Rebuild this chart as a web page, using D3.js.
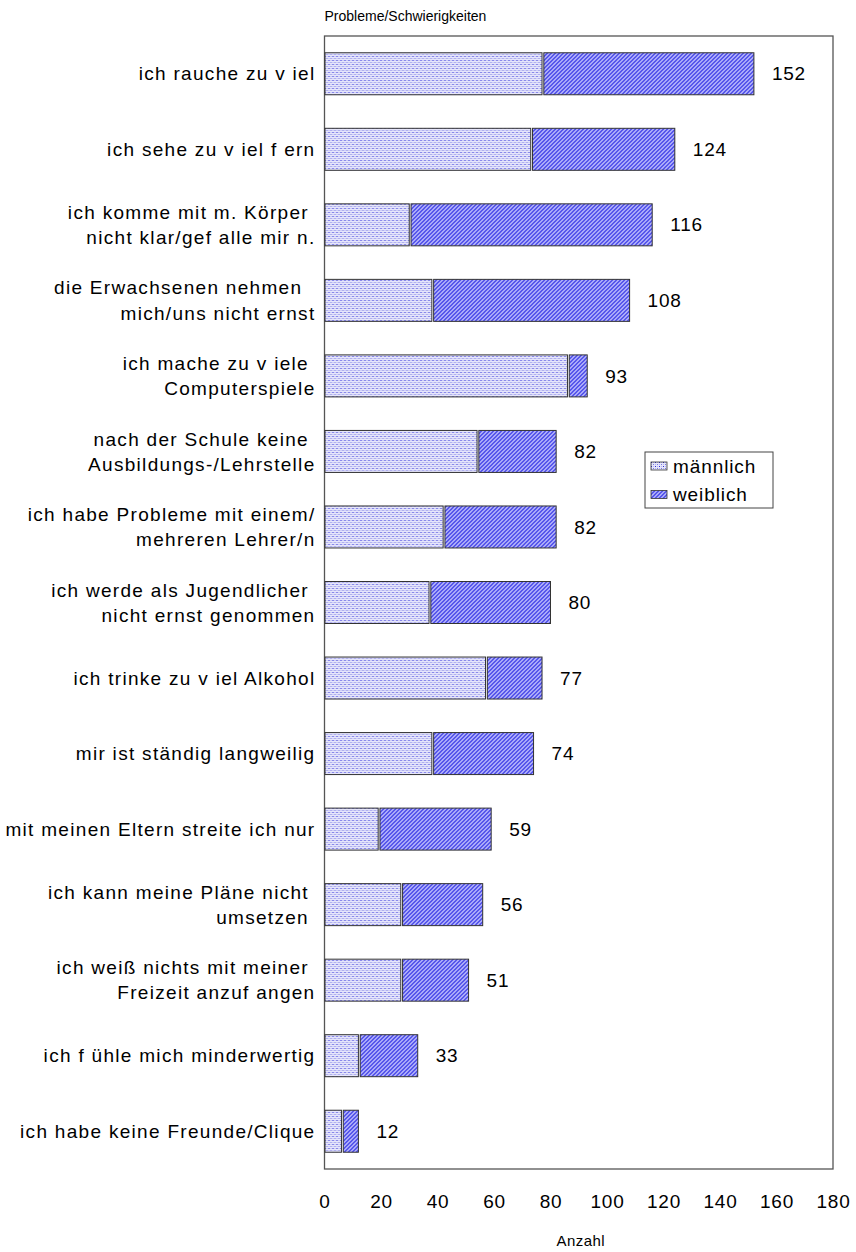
<!DOCTYPE html>
<html>
<head>
<meta charset="utf-8">
<script src="https://cdn.jsdelivr.net/npm/d3@7"></script>
<style>
  body { margin: 0; background: #fff; }
  text { font-family: "Liberation Sans", Arial, sans-serif; fill: #000; }
</style>
</head>
<body>
<div id="chart"></div>
<script>
// categories (line breaks as in the original chart)
let categories = [
  ['ich rauche zu v iel'],
  ['ich sehe zu v iel f ern'],
  ['ich komme mit m. Körper ', 'nicht klar/gef alle mir n.'],
  ['die Erwachsenen nehmen  ', 'mich/uns nicht ernst'],
  ['ich mache zu v iele ', 'Computerspiele'],
  ['nach der Schule keine ', 'Ausbildungs-/Lehrstelle'],
  ['ich habe Probleme mit einem/', 'mehreren Lehrer/n'],
  ['ich werde als Jugendlicher ', 'nicht ernst genommen'],
  ['ich trinke zu v iel Alkohol'],
  ['mir ist ständig langweilig'],
  ['mit meinen Eltern streite ich nur'],
  ['ich kann meine Pläne nicht ', 'umsetzen '],
  ['ich weiß nichts mit meiner ', 'Freizeit anzuf angen'],
  ['ich f ühle mich minderwertig'],
  ['ich habe keine Freunde/Clique']
]
let male   = [77, 73, 30, 38, 86, 54, 42, 37, 57, 38, 19, 27, 27, 12, 6]
let female = [75, 51, 86, 70,  7, 28, 40, 43, 20, 36, 40, 29, 24, 21, 6]
let totals = [152, 124, 116, 108, 93, 82, 82, 80, 77, 74, 59, 56, 51, 33, 12]
let xTicks = [0, 20, 40, 60, 80, 100, 120, 140, 160, 180]
let series = ['männlich', 'weiblich']

let width = 856
let height = 1252
let margin = { top: 36, left: 324.5, right: 23, bottom: 83 }
let innerW = width - margin.left - margin.right
let innerH = height - margin.top - margin.bottom

let svg = d3.select('#chart')
  .append('svg')
  .attr('width', width)
  .attr('height', height)

// fill patterns
let defs = svg.append('defs')

let dots = defs.append('pattern')
  .attr('id', 'pat-m')
  .attr('patternUnits', 'userSpaceOnUse')
  .attr('width', 4).attr('height', 4)
dots.append('rect').attr('width', 4).attr('height', 4).attr('fill', '#e6e6fb')
dots.append('rect').attr('x', 0).attr('y', 0).attr('width', 1).attr('height', 1).attr('fill', '#2c2cd8')
dots.append('rect').attr('x', 2).attr('y', 2).attr('width', 1).attr('height', 1).attr('fill', '#7a7ae0')
dots.append('rect').attr('x', 2).attr('y', 0).attr('width', 1).attr('height', 1).attr('fill', '#b4b4f0')
dots.append('rect').attr('x', 0).attr('y', 2).attr('width', 1).attr('height', 1).attr('fill', '#b4b4f0')

let hatch = defs.append('pattern')
  .attr('id', 'pat-w')
  .attr('patternUnits', 'userSpaceOnUse')
  .attr('width', 4).attr('height', 4)
hatch.append('rect').attr('width', 4).attr('height', 4).attr('fill', '#cfcfff')
hatch.append('path')
  .attr('d', 'M-1,1 L1,-1 M0,4 L4,0 M3,5 L5,3')
  .attr('stroke', '#2a2ae4')
  .attr('stroke-width', 1.3)

let g = svg.append('g')
  .attr('transform', 'translate(' + margin.left + ',' + margin.top + ')')

let x = d3.scaleLinear().domain([0, 180]).range([0, innerW])
let y = d3.scaleBand()
  .domain(d3.range(categories.length))
  .range([0, innerH])
  .paddingInner(0.444)
  .paddingOuter(0.222)

// plot frame
g.append('rect')
  .attr('x', 0).attr('y', 0)
  .attr('width', innerW).attr('height', innerH)
  .attr('fill', 'none')
  .attr('stroke', '#555')
  .attr('stroke-width', 1.3)

// bars
let rows = g.selectAll('.row')
  .data(categories)
  .enter()
  .append('g')
  .attr('class', 'row')

rows.append('rect')
  .attr('x', 0.5)
  .attr('y', (d, i) => y(i))
  .attr('width', (d, i) => x(male[i]) - 0.5)
  .attr('height', y.bandwidth())
  .attr('fill', 'url(#pat-m)')
  .attr('stroke', '#333')
  .attr('stroke-width', 1)

rows.append('rect')
  .attr('x', (d, i) => x(male[i]) + 1.8)
  .attr('y', (d, i) => y(i))
  .attr('width', (d, i) => x(male[i] + female[i]) - x(male[i]) - 1.8)
  .attr('height', y.bandwidth())
  .attr('fill', 'url(#pat-w)')
  .attr('stroke', '#333')
  .attr('stroke-width', 1)

// value labels
rows.append('text')
  .attr('x', (d, i) => x(male[i] + female[i]) + 18)
  .attr('y', (d, i) => y(i) + y.bandwidth() / 2)
  .attr('dy', '0.35em')
  .style('font-size', '19px')
  .style('letter-spacing', '0.8px')
  .text((d, i) => totals[i])

// category labels
rows.append('text')
  .attr('text-anchor', 'end')
  .attr('x', -9)
  .attr('y', (d, i) => y(i) + y.bandwidth() / 2)
  .style('font-size', '19px')
  .style('letter-spacing', '1.3px')
  .style('white-space', 'pre')
  .selectAll('tspan')
  .data(d => d.map((t, k) => ({ t: t, k: k, n: d.length })))
  .enter()
  .append('tspan')
  .attr('x', -9)
  .attr('dy', d => d.k === 0 ? (d.n === 1 ? '0.35em' : (0.35 - 0.66) + 'em') : '1.32em')
  .text(d => d.t)

// x axis labels
let xAxis = g.append('g')
  .attr('transform', 'translate(0,' + innerH + ')')
  .call(d3.axisBottom(x).tickValues(xTicks).tickSize(0).tickPadding(26))
xAxis.select('.domain').remove()
xAxis.selectAll('text')
  .style('font-size', '19px')
  .style('letter-spacing', '0.8px')
  .style('font-family', '"Liberation Sans", Arial, sans-serif')
  .attr('fill', '#000')

g.append('text')
  .attr('x', innerW * 0.5 + 2)
  .attr('y', innerH + 77)
  .attr('text-anchor', 'middle')
  .style('font-size', '15px')
  .style('letter-spacing', '0.4px')
  .text('Anzahl')

// title
svg.append('text')
  .attr('x', margin.left)
  .attr('y', 21)
  .style('font-size', '14px')
  .text('Probleme/Schwierigkeiten')

// legend
let legend = svg.append('g')
  .attr('transform', 'translate(645,452)')
legend.append('rect')
  .attr('width', 128).attr('height', 56)
  .attr('fill', '#fff')
  .attr('stroke', '#444')
  .attr('stroke-width', 1)
let li = legend.selectAll('.item')
  .data(series)
  .enter()
  .append('g')
  .attr('class', 'item')
  .attr('transform', (d, i) => 'translate(6,' + (10 + i * 28.5) + ')')
li.append('rect')
  .attr('width', 16).attr('height', 8)
  .attr('fill', (d, i) => i === 0 ? 'url(#pat-m)' : 'url(#pat-w)')
  .attr('stroke', '#333')
  .attr('stroke-width', 0.8)
li.append('text')
  .attr('x', 22)
  .attr('y', 4)
  .attr('dy', '0.35em')
  .style('font-size', '19px')
  .style('letter-spacing', '0.9px')
  .text(d => d)
</script>
</body>
</html>
